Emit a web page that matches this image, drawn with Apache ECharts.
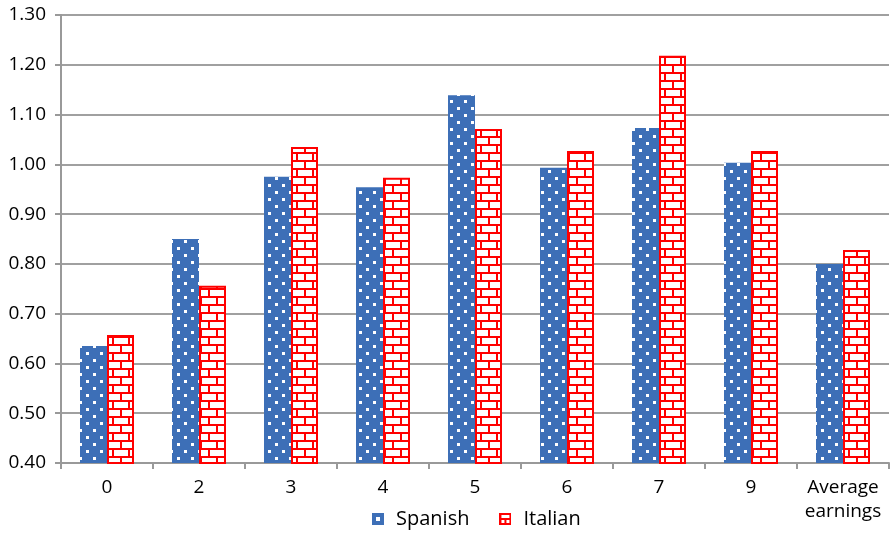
<!DOCTYPE html>
<html>
<head>
<meta charset="utf-8">
<script src="https://cdn.jsdelivr.net/npm/echarts@6/dist/echarts.min.js"></script>
<style>
  html, body { margin: 0; padding: 0; background: #fff; }
  #chart { width: 890px; height: 534px; }
</style>
</head>
<body>
<div id="chart"></div>
<script>
// Relative earnings by group
const categories = ['0', '2', '3', '4', '5', '6', '7', '9', 'Average\nearnings'];
const spanish = [0.635, 0.850, 0.975, 0.954, 1.139, 0.993, 1.073, 1.003, 0.800];
const italian = [0.657, 0.756, 1.035, 0.973, 1.071, 1.027, 1.218, 1.027, 0.828];
const seriesNames = ['Spanish', 'Italian'];

const BLUE = '#3d6fb7';
const RED = '#ff0000';
const FONT = '"Open Sans", "Liberation Sans", sans-serif';
const FS = 19;

// Blue fill with staggered white dots
function dotTile() {
  const c = document.createElement('canvas');
  c.width = 14; c.height = 14;
  const g = c.getContext('2d');
  g.fillStyle = BLUE; g.fillRect(0, 0, 14, 14);
  g.fillStyle = '#ffffff';
  g.fillRect(2, 2, 3, 3);
  g.fillRect(9, 9, 3, 3);
  return c;
}

// White fill with red brick lines
function brickTile() {
  const c = document.createElement('canvas');
  c.width = 16; c.height = 16;
  const g = c.getContext('2d');
  g.fillStyle = '#ffffff'; g.fillRect(0, 0, 16, 16);
  g.fillStyle = RED;
  g.fillRect(0, 0, 16, 2);
  g.fillRect(0, 8, 16, 2);
  g.fillRect(0, 0, 2, 8);
  g.fillRect(8, 8, 2, 8);
  return c;
}

function dotIcon() {
  const c = document.createElement('canvas');
  c.width = 12; c.height = 12;
  const g = c.getContext('2d');
  g.fillStyle = BLUE; g.fillRect(0, 0, 12, 12);
  g.fillStyle = '#ffffff'; g.fillRect(4, 4, 4, 4);
  return c.toDataURL();
}

function brickIcon() {
  const c = document.createElement('canvas');
  c.width = 12; c.height = 12;
  const g = c.getContext('2d');
  g.fillStyle = '#ffffff'; g.fillRect(0, 0, 12, 12);
  g.fillStyle = RED;
  g.fillRect(0, 0, 12, 2); g.fillRect(0, 10, 12, 2);
  g.fillRect(0, 0, 2, 12); g.fillRect(10, 0, 2, 12);
  g.fillRect(0, 5, 12, 2); g.fillRect(5, 5, 2, 6);
  return c.toDataURL();
}

const chart = echarts.init(document.getElementById('chart'), null, { renderer: 'canvas' });

chart.setOption({
  animation: false,
  backgroundColor: '#ffffff',
  grid: { left: 61, right: 1, top: 15, bottom: 71, containLabel: false },
  legend: {
    bottom: 0,
    left: 367,
    itemWidth: 12,
    itemHeight: 12,
    itemGap: 30,
    textStyle: { fontFamily: FONT, fontSize: 20, color: '#000', padding: [0, 0, 0, 7] },
    data: [
      { name: seriesNames[0], icon: 'image://' + dotIcon() },
      { name: seriesNames[1], icon: 'image://' + brickIcon() }
    ]
  },
  xAxis: {
    type: 'category',
    data: categories,
    axisLine: { lineStyle: { color: '#999', width: 2 } },
    axisTick: { show: true, length: 6, lineStyle: { color: '#999', width: 2 } },
    axisLabel: { fontFamily: FONT, fontSize: FS, color: '#000', margin: 13, lineHeight: 24, interval: 0 }
  },
  yAxis: {
    type: 'value',
    min: 0.4,
    max: 1.3,
    interval: 0.1,
    axisLine: { show: true, lineStyle: { color: '#999', width: 2 } },
    axisTick: { show: true, length: 6, lineStyle: { color: '#999', width: 2 } },
    splitLine: { lineStyle: { color: '#a0a0a0', width: 2 } },
    axisLabel: {
      fontFamily: FONT, fontSize: FS, color: '#000', margin: 15,
      formatter: v => v.toFixed(2)
    }
  },
  series: [
    {
      name: seriesNames[0],
      type: 'bar',
      data: spanish,
      barWidth: 27,
      barGap: '0%',
      itemStyle: { color: { image: dotTile(), repeat: 'repeat' } }
    },
    {
      name: seriesNames[1],
      type: 'bar',
      data: italian,
      barWidth: 27,
      itemStyle: {
        color: { image: brickTile(), repeat: 'repeat' },
        borderColor: RED,
        borderWidth: 2
      }
    }
  ]
});
</script>
</body>
</html>
